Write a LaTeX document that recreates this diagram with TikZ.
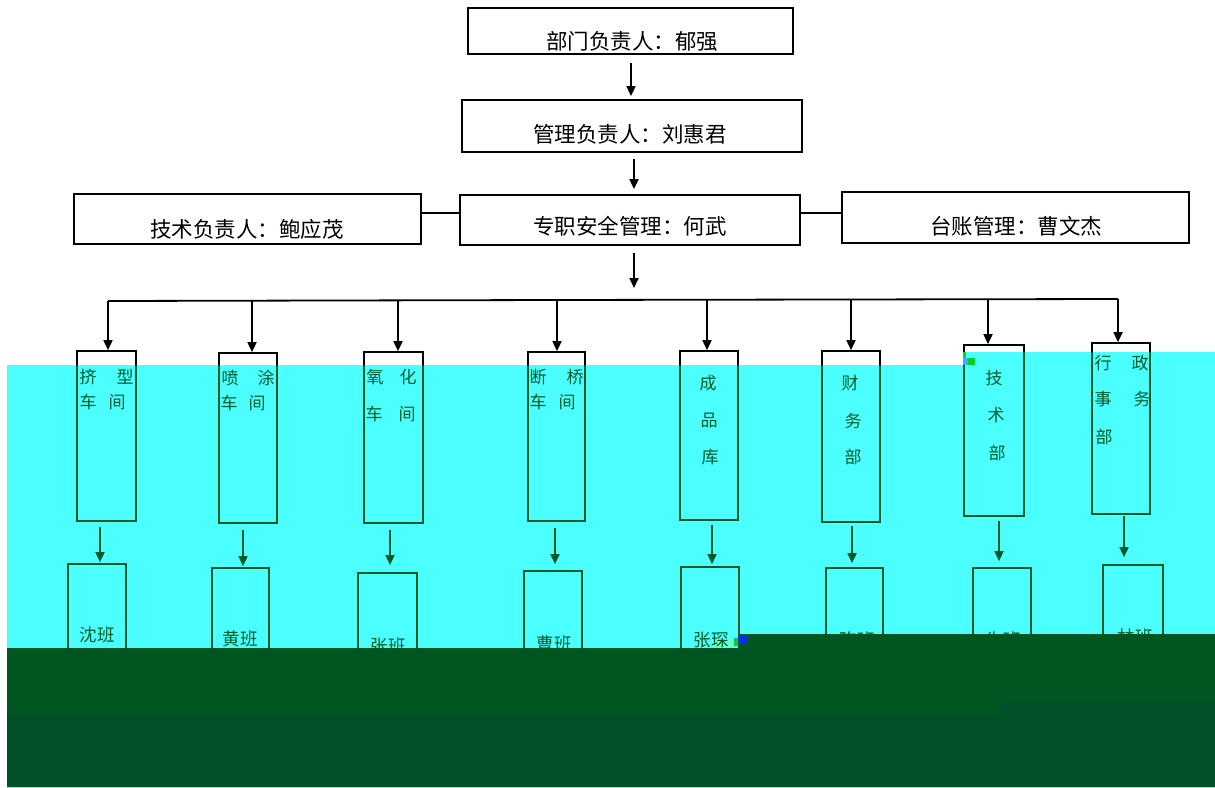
\documentclass[tikz,border=0pt]{standalone}
\usepackage{fontspec}
\setmainfont{Noto Sans CJK SC}
\usetikzlibrary{arrows.meta,calc}
\definecolor{cyanbg}{RGB}{76,255,255}
\definecolor{inkg}{RGB}{0,90,40}
\definecolor{darkA}{RGB}{0,86,32}
\definecolor{darkB}{RGB}{0,80,40}
\definecolor{mint}{RGB}{100,255,210}
\definecolor{artblue}{RGB}{0,50,230}
\definecolor{artgreen}{RGB}{0,210,40}
\colorlet{ink}{black}
\tikzset{
  topbox/.style={draw=black, line width=1.8pt, rectangle, inner sep=0pt},
  toptxt/.style={inner sep=0pt, text=black, font=\fontsize{21.5}{22}\selectfont},
  conn/.style={draw=black, line width=1.8pt},
  arrk/.style={draw=black, line width=1.8pt, -{Triangle[length=10pt,width=9pt]}},
  boxn/.style={draw=ink, line width=1.7pt, rectangle, inner sep=0pt},
  arr/.style={draw=ink, line width=1.7pt, -{Triangle[length=10pt,width=9pt]}},
  lbl/.style={inner sep=0pt, text=ink, font=\fontsize{17}{17}\selectfont},
  tlbl/.style={inner sep=0pt, text=ink, font=\fontsize{17.5}{18}\selectfont},
}
\newcommand\lowerlayer{%
  % department boxes
  \node[boxn, minimum width=59pt, minimum height=170pt] (d1) at (106.5,436) {};
  \node[boxn, minimum width=58pt, minimum height=170pt] (d2) at (248,438) {};
  \node[boxn, minimum width=59pt, minimum height=171pt] (d3) at (393.5,437.5) {};
  \node[boxn, minimum width=57pt, minimum height=169pt] (d4) at (556.5,436.5) {};
  \node[boxn, minimum width=58pt, minimum height=169pt] (d5) at (709,435.5) {};
  \node[boxn, minimum width=58pt, minimum height=171pt] (d6) at (851,436.5) {};
  \node[boxn, minimum width=60pt, minimum height=171pt] (d7) at (994,430.5) {};
  \node[boxn, minimum width=58pt, minimum height=171pt] (d8) at (1121,428.5) {};
  % arrows from the bus
  \draw[arr] (p1) -- (p1 |- d1.north);
  \draw[arr] (p2) -- (p2 |- d2.north);
  \draw[arr] (p3) -- (p3 |- d3.north);
  \draw[arr] (p4) -- (p4 |- d4.north);
  \draw[arr] (p5) -- (p5 |- d5.north);
  \draw[arr] (p6) -- (p6 |- d6.north);
  \draw[arr] (p7) -- (p7 |- d7.north);
  \draw[arr] (p8) -- (p8 |- d8.north);
  % department texts
  \node[lbl] (d1a) at (88,377) {挤};
  \node[lbl] (d1b) at (125,377) {型};
  \node[lbl] (d1c) at (88,402) {车};
  \node[lbl] (d1d) at (117,402) {间};
  \node[lbl] (d2a) at (230,378) {喷};
  \node[lbl] (d2b) at (266,378) {涂};
  \node[lbl] (d2c) at (229,403) {车};
  \node[lbl] (d2d) at (257,403) {间};
  \node[lbl] (d3a) at (375,377) {氧};
  \node[lbl] (d3b) at (408,377) {化};
  \node[lbl] (d3c) at (374,414) {车};
  \node[lbl] (d3d) at (407,414) {间};
  \node[lbl] (d4a) at (538,377) {断};
  \node[lbl] (d4b) at (575,377) {桥};
  \node[lbl] (d4c) at (538,402) {车};
  \node[lbl] (d4d) at (567,402) {间};
  \node[lbl] (d5a) at (708,383) {成};
  \node[lbl] (d5b) at (709,420) {品};
  \node[lbl] (d5c) at (710,457) {库};
  \node[lbl] (d6a) at (850,383) {财};
  \node[lbl] (d6b) at (853,421) {务};
  \node[lbl] (d6c) at (853,457) {部};
  \node[lbl] (d7a) at (994,378) {技};
  \node[lbl] (d7b) at (996,415) {术};
  \node[lbl] (d7c) at (997,453) {部};
  \node[lbl] (d8a) at (1103,363) {行};
  \node[lbl] (d8b) at (1140,363) {政};
  \node[lbl] (d8c) at (1103,399) {事};
  \node[lbl] (d8d) at (1142,399) {务};
  \node[lbl] (d8e) at (1104,437) {部};
  % team boxes
  \node[boxn, minimum width=58pt, minimum height=156pt] (t1) at (97,642) {};
  \node[boxn, minimum width=57pt, minimum height=152pt] (t2) at (240.5,644) {};
  \node[boxn, minimum width=59pt, minimum height=147pt] (t3) at (387.5,646.5) {};
  \node[boxn, minimum width=58pt, minimum height=149pt] (t4) at (553,645.5) {};
  \node[boxn, minimum width=58pt, minimum height=153pt] (t5) at (710,643.5) {};
  \node[boxn, minimum width=57pt, minimum height=152pt] (t6) at (854.5,644) {};
  \node[boxn, minimum width=58pt, minimum height=152pt] (t7) at (1002,644) {};
  \node[boxn, minimum width=60pt, minimum height=155pt] (t8) at (1133,642.5) {};
  % arrows department -> team
  \draw[arr] ($(d1.south)+(-6.5,5)$) -- ($(t1.north)+(3,-1)$);
  \draw[arr] ($(d2.south)+(-5,6)$) -- ($(t2.north)+(2.5,-1)$);
  \draw[arr] ($(d3.south)+(-3.5,6)$) -- ($(t3.north)+(2.5,-7)$);
  \draw[arr] ($(d4.south)+(-1.5,6)$) -- ($(t4.north)+(2,-6)$);
  \draw[arr] ($(d5.south)+(3,4)$) -- ($(t5.north)+(2,-2)$);
  \draw[arr] ($(d6.south)+(1,3)$) -- ($(t6.north)+(-2.5,-4)$);
  \draw[arr] ($(d7.south)+(5,4)$) -- ($(t7.north)+(-3,-6)$);
  \draw[arr] ($(d8.south)+(3,1)$) -- ($(t8.north)+(-9,-7)$);
  % team texts
  \node[tlbl] (t1x) at (97,635) {沈班};
  \node[tlbl] (t2x) at (240,639) {黄班};
  \node[tlbl] (t3x) at (388,646) {张班};
  \node[tlbl] (t4x) at (554,644) {曹班};
  \node[tlbl] (t5x) at (711,640) {张琛};
  \node[tlbl] (t6x) at (857,640) {陈班};
  \node[tlbl] (t7x) at (1003,640) {朱班};
  \node[tlbl] (t8x) at (1135,637) {林班};
}
\begin{document}
\begin{tikzpicture}[x=1pt,y=-1pt]
\useasboundingbox (0,0) rectangle (1215,787);
\fill[white] (0,0) rectangle (1215,787);
% cyan band
\fill[cyanbg] (7,365) -- (963,365) -- (963,352) -- (1215,352) -- (1215,787) -- (7,787) -- cycle;
\fill[mint] (712,639) rectangle (734,647);
% top part
\node[topbox, minimum width=325pt, minimum height=46pt] (b1) at (630.5,31) {};
\node[toptxt] (b1t) at (632,41) {部门负责人：郁强};
\node[topbox, minimum width=340pt, minimum height=52pt] (b2) at (632,126) {};
\node[toptxt] (b2t) at (630,134) {管理负责人：刘惠君};
\node[topbox, minimum width=340pt, minimum height=50pt] (b3) at (630,220) {};
\node[toptxt] (b3t) at (630,226) {专职安全管理：何武};
\node[topbox, minimum width=347pt, minimum height=50pt] (b4) at (247.5,219) {};
\node[toptxt] (b4t) at (247,229) {技术负责人：鲍应茂};
\node[topbox, minimum width=347pt, minimum height=51pt] (b5) at (1015.5,217.5) {};
\node[toptxt] (b5t) at (1016,226) {台账管理：曹文杰};
\draw[arrk] ($(b1.south)+(0.5,8)$) -- ($(b2.north)+(-1,-3)$);
\draw[arrk] ($(b2.south)+(2,6)$) -- ($(b3.north)+(4,-5)$);
\draw[conn] ($(b4.east)+(0,-6)$) -- ($(b3.west)+(0,-7)$);
\draw[conn] ($(b3.east)+(0,-7)$) -- ($(b5.west)+(0,-4.5)$);
\coordinate (busc) at (634,300);
\draw[arrk] ($(b3.south)+(4,7)$) -- ($(busc)+(0,-12)$);
% bus
\coordinate (p1) at (108,301);
\coordinate (p2) at (252,300.5);
\coordinate (p3) at (398,300.5);
\coordinate (p4) at (557,300);
\coordinate (p5) at (707,300);
\coordinate (p6) at (851,299.5);
\coordinate (p7) at (988,299);
\coordinate (p8) at (1118,299);
\draw[conn, line join=miter] (p1) -- (p4) -- (p8);
% lower layers, black over white and green over cyan
\begin{scope}
  \clip (0,0) -- (1215,0) -- (1215,352) -- (963,352) -- (963,365) -- (7,365) -- (7,787) -- (0,787) -- cycle;
  \colorlet{ink}{black}
  \lowerlayer
\end{scope}
\begin{scope}
  \clip (7,365) -- (963,365) -- (963,352) -- (1215,352) -- (1215,787) -- (7,787) -- cycle;
  \colorlet{ink}{inkg}
  \lowerlayer
\end{scope}
% dark band
\fill[darkA] (7,648) -- (740,648) -- (740,634) -- (1215,634) -- (1215,787) -- (7,787) -- cycle;
\fill[darkB] (7,714) -- (1000,714) -- (1000,702) -- (1215,702) -- (1215,787) -- (7,787) -- cycle;
% scan artefacts
\fill[artgreen] (734,638) rectangle (738,646);
\fill[artblue] (738,636) rectangle (747,644);
\fill[artgreen] (963,352) rectangle (966,360);
\fill[cyanbg!70!blue] (963,358) rectangle (968,365);
\fill[artgreen] (968,358) rectangle (975,365);
\end{tikzpicture}
\end{document}
